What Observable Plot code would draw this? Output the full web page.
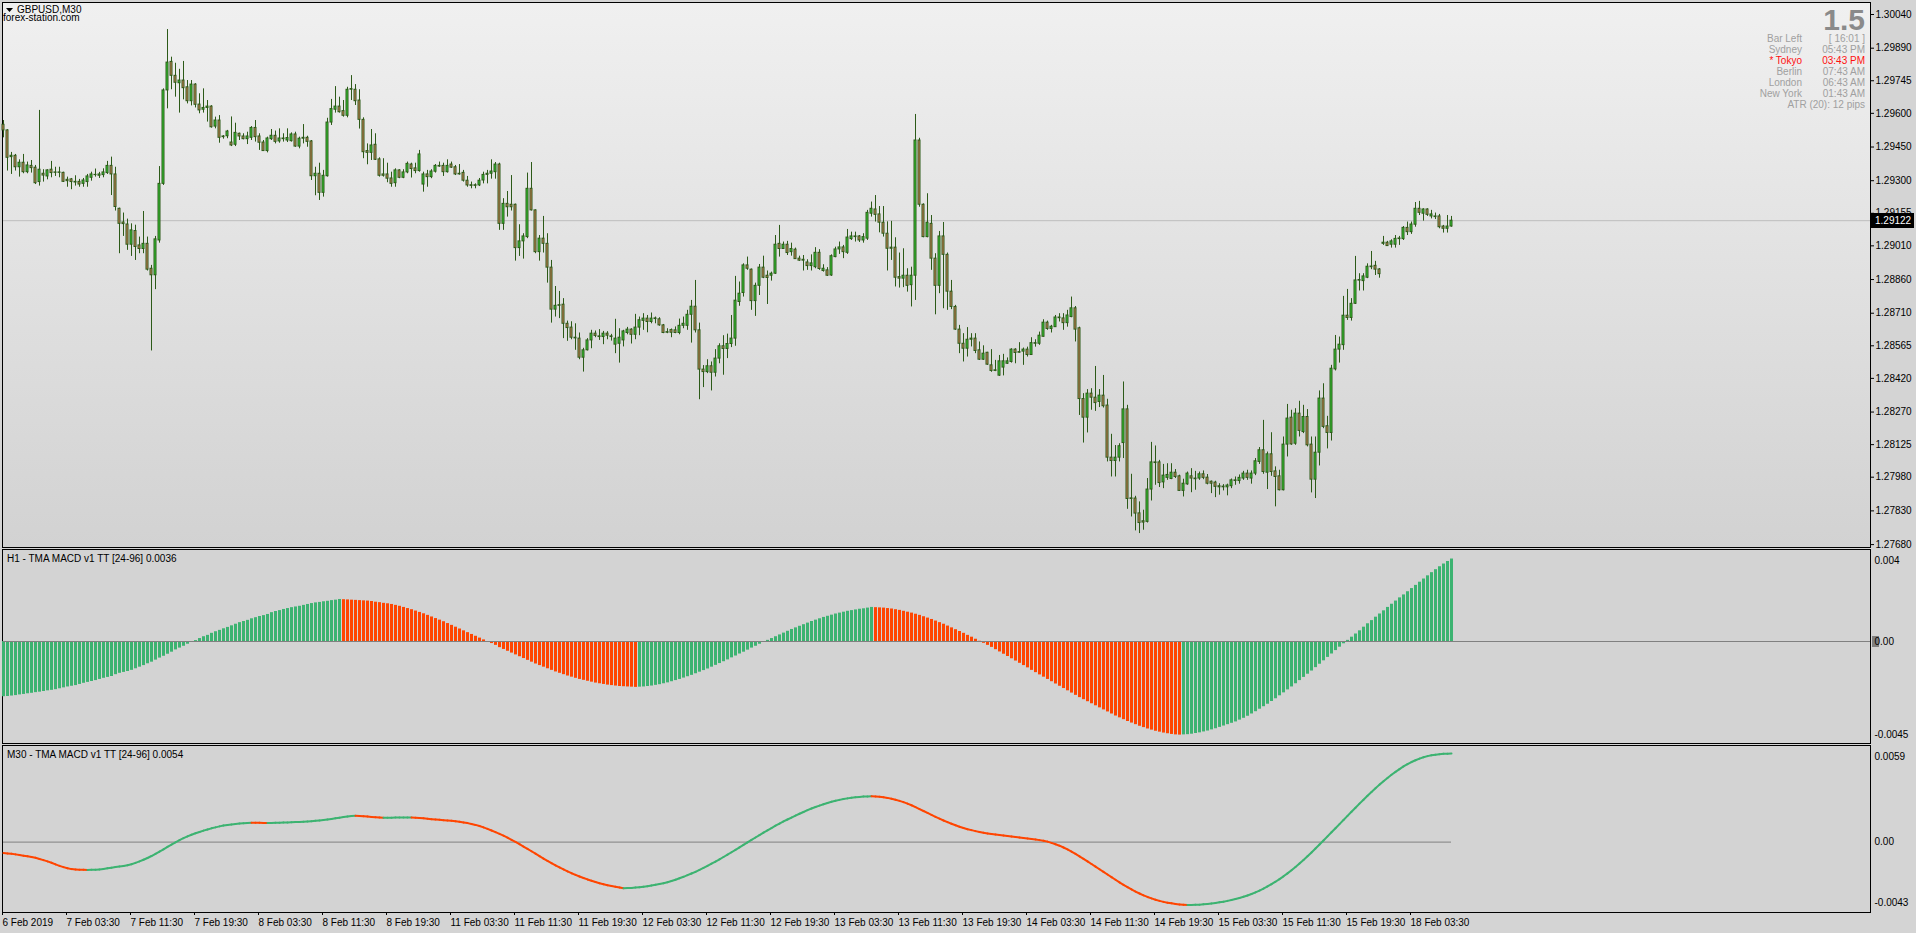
<!DOCTYPE html>
<html><head><meta charset="utf-8">
<script src="https://cdn.jsdelivr.net/npm/d3@7"></script>
<script src="https://cdn.jsdelivr.net/npm/@observablehq/plot@0.6"></script>
<style>
body{margin:0;background:#d4d4d4;font-family:"Liberation Sans",Arial,sans-serif;}
#root{position:relative;width:1916px;height:933px;overflow:hidden;background:#d4d4d4;}
.panel{position:absolute;box-sizing:border-box;border:1px solid #000;}
</style></head>
<body><div id="root"></div>
<script>
// ---------- DATA (GBPUSD M30, 363 bars) ----------
const open = [
1.29549,1.29524,1.29405,1.29411,1.29360,1.29380,1.29338,1.29366,1.29358,1.29294,
1.29331,1.29319,1.29349,1.29337,1.29337,1.29335,1.29304,1.29306,1.29295,1.29295,
1.29286,1.29294,1.29313,1.29326,1.29322,1.29325,1.29334,1.29366,1.29328,1.29175,
1.29114,1.29105,1.29015,1.29076,1.29012,1.28996,1.29019,1.28908,1.28879,1.29034,
1.29286,1.29702,1.29829,1.29767,1.29734,1.29746,1.29716,1.29654,1.29728,1.29639,
1.29616,1.29624,1.29630,1.29541,1.29568,1.29494,1.29498,1.29470,1.29460,1.29509,
1.29497,1.29485,1.29491,1.29535,1.29497,1.29470,1.29432,1.29485,1.29500,1.29475,
1.29485,1.29479,1.29476,1.29506,1.29452,1.29487,1.29491,1.29475,1.29320,1.29331,
1.29246,1.29320,1.29559,1.29616,1.29630,1.29610,1.29589,1.29705,1.29705,1.29657,
1.29571,1.29432,1.29424,1.29460,1.29395,1.29328,1.29328,1.29310,1.29289,1.29346,
1.29313,1.29337,1.29372,1.29355,1.29343,1.29283,1.29328,1.29316,1.29340,1.29363,
1.29366,1.29338,1.29372,1.29360,1.29331,1.29335,1.29300,1.29280,1.29277,1.29279,
1.29301,1.29326,1.29331,1.29338,1.29372,1.29108,1.29197,1.29193,1.29193,1.29000,
1.29030,1.29049,1.29264,1.29168,1.28982,1.29042,1.29019,1.28913,1.28726,1.28743,
1.28748,1.28663,1.28646,1.28601,1.28597,1.28512,1.28545,1.28589,1.28619,1.28607,
1.28604,1.28619,1.28607,1.28570,1.28574,1.28589,1.28622,1.28637,1.28614,1.28646,
1.28676,1.28686,1.28671,1.28687,1.28683,1.28656,1.28626,1.28635,1.28634,1.28622,
1.28654,1.28654,1.28703,1.28739,1.28634,1.28459,1.28448,1.28474,1.28445,1.28508,
1.28563,1.28551,1.28573,1.28597,1.28760,1.28800,1.28923,1.28904,1.28764,1.28832,
1.28913,1.28877,1.28877,1.28886,1.29019,1.28996,1.29015,1.28982,1.28993,1.28953,
1.28944,1.28936,1.28920,1.28915,1.28979,1.28898,1.28901,1.28878,1.28960,1.28994,
1.29003,1.28979,1.29040,1.29052,1.29052,1.29034,1.29042,1.29153,1.29172,1.29150,
1.29113,1.29064,1.29002,1.29002,1.28871,1.28864,1.28877,1.28835,1.28877,1.29479,
1.29193,1.29049,1.29108,1.28953,1.28832,1.29052,1.28970,1.28806,1.28738,1.28637,
1.28574,1.28552,1.28592,1.28597,1.28545,1.28503,1.28534,1.28478,1.28456,1.28432,
1.28468,1.28485,1.28493,1.28548,1.28534,1.28539,1.28548,1.28524,1.28574,1.28574,
1.28605,1.28668,1.28640,1.28648,1.28688,1.28687,1.28666,1.28693,1.28732,1.28643,
1.28328,1.28245,1.28352,1.28334,1.28315,1.28343,1.28299,1.28067,1.28052,1.28067,
1.28132,1.28282,1.27886,1.27885,1.27819,1.27784,1.27781,1.27925,1.28046,1.28046,
1.27957,1.27977,1.27972,1.28000,1.27984,1.27919,1.27948,1.27984,1.27974,1.27974,
1.27993,1.27978,1.27960,1.27956,1.27940,1.27938,1.27935,1.27940,1.27966,1.27963,
1.27974,1.27996,1.27974,1.27996,1.28048,1.28100,1.28000,1.28082,1.28006,1.27984,
1.27922,1.28125,1.28245,1.28129,1.28263,1.28181,1.28248,1.28125,1.27969,1.28089,
1.28330,1.28207,1.28177,1.28460,1.28548,1.28568,1.28699,1.28689,1.28752,1.28858,
1.28853,1.28868,1.28915,1.28921,1.28905,1.29019,1.29024,1.29015,1.29015,1.29040,
1.29040,1.29090,1.29071,1.29104,1.29175,1.29153,1.29172,1.29141,1.29141,1.29141,
1.29096,1.29086,1.29096];
const high = [
1.29568,1.29527,1.29426,1.29417,1.29393,1.29417,1.29383,1.29390,1.29368,1.29613,
1.29349,1.29349,1.29386,1.29360,1.29360,1.29338,1.29316,1.29310,1.29322,1.29306,
1.29310,1.29328,1.29338,1.29352,1.29337,1.29353,1.29386,1.29405,1.29360,1.29178,
1.29156,1.29129,1.29108,1.29102,1.29049,1.29163,1.29049,1.28923,1.29052,1.29363,
1.29709,1.29973,1.29850,1.29823,1.29796,1.29831,1.29746,1.29746,1.29732,1.29687,
1.29709,1.29657,1.29634,1.29583,1.29590,1.29501,1.29524,1.29584,1.29556,1.29512,
1.29509,1.29516,1.29541,1.29568,1.29509,1.29479,1.29494,1.29528,1.29521,1.29531,
1.29509,1.29531,1.29513,1.29516,1.29494,1.29550,1.29498,1.29479,1.29360,1.29378,
1.29346,1.29578,1.29662,1.29719,1.29672,1.29657,1.29716,1.29768,1.29728,1.29705,
1.29580,1.29464,1.29528,1.29509,1.29402,1.29398,1.29378,1.29338,1.29353,1.29349,
1.29349,1.29383,1.29378,1.29378,1.29435,1.29338,1.29346,1.29349,1.29372,1.29383,
1.29378,1.29393,1.29383,1.29368,1.29372,1.29346,1.29319,1.29294,1.29286,1.29310,
1.29338,1.29346,1.29393,1.29381,1.29378,1.29220,1.29252,1.29323,1.29196,1.29104,
1.29064,1.29334,1.29381,1.29170,1.29056,1.29141,1.29064,1.28945,1.28829,1.28807,
1.28775,1.28675,1.28672,1.28663,1.28622,1.28554,1.28597,1.28634,1.28631,1.28637,
1.28629,1.28628,1.28616,1.28683,1.28641,1.28634,1.28647,1.28641,1.28705,1.28693,
1.28708,1.28700,1.28711,1.28693,1.28690,1.28660,1.28641,1.28640,1.28649,1.28684,
1.28693,1.28723,1.28767,1.28856,1.28666,1.28477,1.28503,1.28493,1.28548,1.28574,
1.28610,1.28617,1.28700,1.28874,1.28849,1.28930,1.28960,1.28907,1.28844,1.28927,
1.28964,1.28898,1.28893,1.29056,1.29101,1.29027,1.29030,1.29022,1.29000,1.28964,
1.28967,1.28948,1.28970,1.29002,1.28993,1.28926,1.28913,1.28970,1.29004,1.29027,
1.29012,1.29083,1.29071,1.29071,1.29056,1.29064,1.29168,1.29205,1.29234,1.29185,
1.29185,1.29117,1.29119,1.29046,1.28978,1.28997,1.28908,1.28915,1.29595,1.29489,
1.29197,1.29242,1.29145,1.28975,1.29074,1.29114,1.28978,1.28856,1.28745,1.28656,
1.28619,1.28646,1.28619,1.28619,1.28582,1.28565,1.28536,1.28548,1.28500,1.28522,
1.28527,1.28511,1.28552,1.28552,1.28579,1.28555,1.28559,1.28601,1.28592,1.28626,
1.28681,1.28675,1.28656,1.28700,1.28708,1.28708,1.28723,1.28782,1.28740,1.28648,
1.28352,1.28370,1.28374,1.28473,1.28370,1.28433,1.28327,1.28171,1.28121,1.28129,
1.28404,1.28300,1.27993,1.27895,1.27870,1.27833,1.27974,1.28135,1.28119,1.28055,
1.28037,1.28040,1.28040,1.28014,1.27989,1.27971,1.28003,1.28018,1.28006,1.28003,
1.28008,1.27992,1.27963,1.27962,1.27951,1.27947,1.27949,1.27972,1.27981,1.27990,
1.28006,1.28011,1.28008,1.28063,1.28112,1.28233,1.28092,1.28178,1.28026,1.28011,
1.28159,1.28304,1.28278,1.28285,1.28318,1.28300,1.28281,1.28159,1.28159,1.28364,
1.28396,1.28251,1.28478,1.28611,1.28604,1.28785,1.28816,1.28775,1.28963,1.28886,
1.28886,1.28930,1.28985,1.28941,1.28909,1.29052,1.29030,1.29037,1.29056,1.29052,
1.29096,1.29116,1.29116,1.29203,1.29208,1.29175,1.29175,1.29168,1.29156,1.29150,
1.29101,1.29145,1.29141];
const low = [
1.29491,1.29343,1.29328,1.29343,1.29316,1.29331,1.29331,1.29334,1.29283,1.29276,
1.29294,1.29304,1.29313,1.29319,1.29313,1.29292,1.29271,1.29260,1.29276,1.29271,
1.29271,1.29271,1.29298,1.29316,1.29310,1.29313,1.29328,1.29234,1.29165,1.28975,
1.29052,1.28990,1.28963,1.28945,1.28975,1.28975,1.28898,1.28542,1.28815,1.29022,
1.29279,1.29620,1.29705,1.29672,1.29601,1.29660,1.29642,1.29633,1.29624,1.29598,
1.29601,1.29561,1.29534,1.29531,1.29467,1.29485,1.29487,1.29452,1.29452,1.29479,
1.29482,1.29461,1.29479,1.29472,1.29435,1.29430,1.29424,1.29479,1.29464,1.29467,
1.29472,1.29470,1.29472,1.29449,1.29442,1.29464,1.29449,1.29301,1.29233,1.29212,
1.29227,1.29316,1.29546,1.29601,1.29601,1.29583,1.29580,1.29657,1.29635,1.29530,
1.29398,1.29371,1.29390,1.29390,1.29316,1.29316,1.29291,1.29271,1.29271,1.29309,
1.29309,1.29331,1.29312,1.29331,1.29338,1.29249,1.29271,1.29309,1.29334,1.29360,
1.29319,1.29334,1.29355,1.29323,1.29325,1.29294,1.29271,1.29264,1.29264,1.29274,
1.29286,1.29286,1.29307,1.29307,1.29079,1.29079,1.29138,1.29165,1.28942,1.28963,
1.28951,1.29042,1.29165,1.28975,1.28942,1.28978,1.28844,1.28666,1.28693,1.28686,
1.28597,1.28585,1.28592,1.28545,1.28503,1.28448,1.28542,1.28552,1.28601,1.28589,
1.28570,1.28592,1.28586,1.28530,1.28488,1.28560,1.28614,1.28573,1.28592,1.28610,
1.28634,1.28623,1.28663,1.28663,1.28652,1.28619,1.28619,1.28601,1.28619,1.28614,
1.28641,1.28634,1.28577,1.28622,1.28325,1.28379,1.28441,1.28364,1.28426,1.28485,
1.28434,1.28508,1.28557,1.28563,1.28741,1.28782,1.28901,1.28723,1.28696,1.28789,
1.28864,1.28749,1.28853,1.28883,1.28960,1.28994,1.28967,1.28964,1.28950,1.28941,
1.28898,1.28901,1.28898,1.28908,1.28901,1.28893,1.28874,1.28874,1.28957,1.28972,
1.28953,1.28972,1.29034,1.29027,1.29025,1.29022,1.29034,1.29138,1.29116,1.29068,
1.29049,1.28898,1.28945,1.28827,1.28822,1.28824,1.28804,1.28738,1.28767,1.29182,
1.29046,1.29046,1.28901,1.28703,1.28797,1.28730,1.28723,1.28726,1.28634,1.28530,
1.28493,1.28515,1.28560,1.28530,1.28500,1.28500,1.28478,1.28447,1.28450,1.28429,
1.28431,1.28482,1.28488,1.28485,1.28533,1.28478,1.28515,1.28522,1.28559,1.28567,
1.28604,1.28634,1.28622,1.28647,1.28671,1.28634,1.28648,1.28690,1.28582,1.28255,
1.28132,1.28177,1.28278,1.28273,1.28290,1.28288,1.28048,1.27981,1.27981,1.28048,
1.28063,1.27837,1.27803,1.27741,1.27729,1.27744,1.27776,1.27874,1.27944,1.27934,
1.27929,1.27966,1.27969,1.27974,1.27917,1.27892,1.27944,1.27911,1.27922,1.27966,
1.27969,1.27946,1.27907,1.27889,1.27900,1.27919,1.27897,1.27929,1.27944,1.27949,
1.27966,1.27966,1.27949,1.27987,1.28037,1.27993,1.27925,1.27984,1.27848,1.27919,
1.27919,1.28070,1.28122,1.28122,1.28159,1.28174,1.28115,1.27910,1.27885,1.28030,
1.28196,1.28106,1.28141,1.28453,1.28488,1.28545,1.28678,1.28675,1.28749,1.28809,
1.28809,1.28864,1.28904,1.28878,1.28866,1.29012,1.29007,1.29000,1.29000,1.29012,
1.29034,1.29056,1.29061,1.29093,1.29145,1.29120,1.29141,1.29130,1.29127,1.29086,
1.29067,1.29067,1.29093];
const close = [
1.29524,1.29402,1.29411,1.29360,1.29380,1.29338,1.29368,1.29356,1.29289,1.29349,
1.29323,1.29346,1.29334,1.29335,1.29335,1.29295,1.29298,1.29294,1.29292,1.29283,
1.29301,1.29319,1.29328,1.29325,1.29328,1.29337,1.29366,1.29328,1.29183,1.29108,
1.29107,1.29015,1.29079,1.29005,1.28996,1.29019,1.28904,1.28879,1.29039,1.29286,
1.29702,1.29826,1.29767,1.29736,1.29746,1.29712,1.29654,1.29728,1.29638,1.29613,
1.29624,1.29630,1.29538,1.29568,1.29491,1.29497,1.29519,1.29457,1.29513,1.29497,
1.29485,1.29497,1.29535,1.29494,1.29469,1.29432,1.29488,1.29500,1.29473,1.29488,
1.29488,1.29490,1.29506,1.29452,1.29487,1.29491,1.29473,1.29320,1.29331,1.29246,
1.29322,1.29559,1.29619,1.29630,1.29605,1.29589,1.29705,1.29708,1.29654,1.29571,
1.29427,1.29424,1.29457,1.29393,1.29322,1.29322,1.29309,1.29286,1.29346,1.29313,
1.29337,1.29375,1.29352,1.29343,1.29417,1.29328,1.29316,1.29341,1.29366,1.29366,
1.29338,1.29366,1.29358,1.29328,1.29328,1.29300,1.29279,1.29277,1.29280,1.29300,
1.29326,1.29331,1.29341,1.29372,1.29108,1.29197,1.29182,1.29182,1.29000,1.29030,
1.29052,1.29264,1.29168,1.28982,1.29042,1.29019,1.28913,1.28726,1.28743,1.28746,
1.28663,1.28644,1.28601,1.28598,1.28512,1.28545,1.28589,1.28619,1.28609,1.28604,
1.28619,1.28610,1.28604,1.28597,1.28601,1.28629,1.28637,1.28614,1.28646,1.28679,
1.28686,1.28671,1.28686,1.28684,1.28656,1.28622,1.28623,1.28623,1.28622,1.28654,
1.28663,1.28703,1.28739,1.28634,1.28459,1.28448,1.28474,1.28445,1.28508,1.28563,
1.28551,1.28573,1.28597,1.28766,1.28797,1.28923,1.28908,1.28764,1.28832,1.28913,
1.28868,1.28867,1.28886,1.29015,1.28996,1.29015,1.28978,1.28996,1.28951,1.28944,
1.28948,1.28920,1.28932,1.28979,1.28907,1.28908,1.28877,1.28964,1.28994,1.29003,
1.28982,1.29047,1.29052,1.29049,1.29034,1.29049,1.29157,1.29175,1.29148,1.29113,
1.29064,1.28997,1.28997,1.28868,1.28864,1.28877,1.28832,1.28877,1.29479,1.29193,
1.29049,1.29113,1.28953,1.28832,1.29052,1.28970,1.28806,1.28738,1.28637,1.28574,
1.28552,1.28592,1.28597,1.28542,1.28503,1.28530,1.28481,1.28453,1.28453,1.28496,
1.28496,1.28496,1.28548,1.28533,1.28537,1.28548,1.28524,1.28577,1.28577,1.28610,
1.28668,1.28640,1.28650,1.28691,1.28691,1.28666,1.28700,1.28732,1.28637,1.28328,
1.28245,1.28352,1.28334,1.28310,1.28343,1.28296,1.28067,1.28052,1.28067,1.28118,
1.28282,1.27883,1.27883,1.27818,1.27776,1.27778,1.27925,1.28046,1.28043,1.27954,
1.27987,1.27990,1.28000,1.27981,1.27919,1.27951,1.27996,1.27974,1.27971,1.27993,
1.27977,1.27951,1.27951,1.27937,1.27935,1.27935,1.27943,1.27966,1.27963,1.27977,
1.27996,1.27977,1.27996,1.28051,1.28100,1.28003,1.28082,1.28003,1.27981,1.27922,
1.28125,1.28241,1.28126,1.28263,1.28186,1.28248,1.28122,1.27969,1.28089,1.28330,
1.28204,1.28177,1.28463,1.28548,1.28570,1.28699,1.28689,1.28752,1.28856,1.28855,
1.28874,1.28917,1.28918,1.28904,1.28884,1.29024,1.29009,1.29030,1.29041,1.29043,
1.29090,1.29071,1.29105,1.29175,1.29157,1.29172,1.29148,1.29150,1.29138,1.29093,
1.29086,1.29096,1.29122];
// H1 TMA MACD histogram
const histH1 = [
-0.00243,-0.00242,-0.00240,-0.00238,-0.00235,-0.00233,-0.00230,-0.00228,-0.00225,-0.00223,
-0.00220,-0.00217,-0.00215,-0.00212,-0.00208,-0.00204,-0.00200,-0.00197,-0.00194,-0.00189,
-0.00184,-0.00180,-0.00176,-0.00172,-0.00167,-0.00162,-0.00158,-0.00154,-0.00146,-0.00140,
-0.00136,-0.00132,-0.00127,-0.00120,-0.00113,-0.00106,-0.00098,-0.00091,-0.00082,-0.00073,
-0.00065,-0.00056,-0.00047,-0.00037,-0.00029,-0.00021,-0.00012,-0.00003,0.00004,0.00013,
0.00021,0.00027,0.00036,0.00043,0.00049,0.00056,0.00062,0.00069,0.00076,0.00083,
0.00088,0.00093,0.00100,0.00105,0.00110,0.00114,0.00119,0.00127,0.00132,0.00136,
0.00141,0.00145,0.00149,0.00152,0.00155,0.00159,0.00163,0.00167,0.00170,0.00172,
0.00175,0.00177,0.00180,0.00182,0.00185,0.00184,0.00183,0.00182,0.00181,0.00180,
0.00179,0.00178,0.00176,0.00173,0.00171,0.00168,0.00166,0.00163,0.00159,0.00155,
0.00150,0.00145,0.00140,0.00134,0.00128,0.00122,0.00115,0.00108,0.00101,0.00094,
0.00087,0.00079,0.00071,0.00063,0.00055,0.00047,0.00039,0.00031,0.00023,0.00015,
0.00007,-0.00001,-0.00009,-0.00017,-0.00027,-0.00035,-0.00043,-0.00051,-0.00059,-0.00067,
-0.00075,-0.00083,-0.00091,-0.00099,-0.00106,-0.00113,-0.00120,-0.00127,-0.00134,-0.00140,
-0.00146,-0.00152,-0.00157,-0.00162,-0.00167,-0.00171,-0.00175,-0.00179,-0.00183,-0.00186,
-0.00189,-0.00192,-0.00194,-0.00196,-0.00198,-0.00199,-0.00200,-0.00201,-0.00202,-0.00201,
-0.00200,-0.00198,-0.00196,-0.00193,-0.00190,-0.00186,-0.00182,-0.00177,-0.00172,-0.00167,
-0.00161,-0.00155,-0.00149,-0.00142,-0.00135,-0.00128,-0.00121,-0.00113,-0.00105,-0.00097,
-0.00089,-0.00081,-0.00072,-0.00064,-0.00055,-0.00047,-0.00038,-0.00029,-0.00021,-0.00012,
-0.00004,0.00005,0.00013,0.00021,0.00029,0.00037,0.00045,0.00053,0.00060,0.00067,
0.00074,0.00081,0.00088,0.00094,0.00100,0.00106,0.00111,0.00116,0.00121,0.00125,
0.00129,0.00133,0.00136,0.00139,0.00142,0.00144,0.00147,0.00150,0.00149,0.00148,
0.00147,0.00145,0.00143,0.00140,0.00137,0.00133,0.00129,0.00125,0.00120,0.00115,
0.00109,0.00103,0.00097,0.00090,0.00083,0.00076,0.00068,0.00060,0.00052,0.00044,
0.00036,0.00027,0.00019,0.00010,0.00001,-0.00008,-0.00017,-0.00026,-0.00036,-0.00046,
-0.00056,-0.00066,-0.00076,-0.00086,-0.00096,-0.00106,-0.00116,-0.00127,-0.00137,-0.00147,
-0.00157,-0.00167,-0.00177,-0.00187,-0.00197,-0.00207,-0.00217,-0.00227,-0.00237,-0.00247,
-0.00256,-0.00265,-0.00274,-0.00283,-0.00292,-0.00301,-0.00310,-0.00319,-0.00328,-0.00336,
-0.00344,-0.00352,-0.00359,-0.00366,-0.00373,-0.00379,-0.00385,-0.00390,-0.00395,-0.00399,
-0.00403,-0.00406,-0.00409,-0.00411,-0.00412,-0.00411,-0.00410,-0.00408,-0.00405,-0.00402,
-0.00398,-0.00394,-0.00389,-0.00384,-0.00378,-0.00372,-0.00366,-0.00360,-0.00354,-0.00346,
-0.00338,-0.00329,-0.00319,-0.00309,-0.00298,-0.00287,-0.00276,-0.00264,-0.00252,-0.00239,
-0.00226,-0.00213,-0.00200,-0.00186,-0.00172,-0.00158,-0.00144,-0.00130,-0.00115,-0.00100,
-0.00085,-0.00070,-0.00055,-0.00040,-0.00025,-0.00010,0.00005,0.00019,0.00033,0.00047,
0.00063,0.00078,0.00092,0.00107,0.00121,0.00135,0.00150,0.00164,0.00178,0.00192,
0.00205,0.00219,0.00233,0.00247,0.00261,0.00275,0.00289,0.00303,0.00316,0.00329,
0.00341,0.00352,0.00363];
// M30 TMA MACD line
const lineM30 = [
-0.00067,-0.00069,-0.00071,-0.00075,-0.00079,-0.00083,-0.00087,-0.00091,-0.00096,-0.00103,
-0.00110,-0.00118,-0.00126,-0.00136,-0.00145,-0.00153,-0.00160,-0.00165,-0.00168,-0.00169,
-0.001695,-0.00170,-0.001695,-0.00169,-0.00167,-0.00164,-0.00160,-0.00156,-0.00152,-0.00149,
-0.00146,-0.00141,-0.00135,-0.00127,-0.00118,-0.00108,-0.00097,-0.00085,-0.00072,-0.00058,
-0.00044,-0.00029,-0.00015,-0.00001,0.00012,0.00024,0.00035,0.00045,0.00054,0.00062,
0.00070,0.00077,0.00084,0.00090,0.00096,0.00101,0.00105,0.00108,0.00111,0.00113,
0.00115,0.00117,0.00118,0.001177,0.001175,0.001173,0.001171,0.001172,0.001175,0.00118,
0.00119,0.00120,0.00121,0.00122,0.00123,0.00124,0.00126,0.00128,0.00130,0.00132,
0.00135,0.00138,0.00141,0.00145,0.00149,0.00153,0.00156,0.00159,0.00161,0.00160,
0.00158,0.00156,0.00154,0.00152,0.00150,0.00149,0.001492,0.001494,0.001496,0.001498,
0.00150,0.001502,0.001504,0.00149,0.00147,0.00145,0.00143,0.00140,0.00138,0.00136,
0.00134,0.00132,0.00130,0.00127,0.00124,0.00120,0.00116,0.00111,0.00105,0.00098,
0.00090,0.00081,0.00071,0.00061,0.00050,0.00039,0.00027,0.00014,0.00001,-0.00013,
-0.00027,-0.00041,-0.00056,-0.00071,-0.00086,-0.00101,-0.00115,-0.00129,-0.00142,-0.00155,
-0.00167,-0.00179,-0.00190,-0.00200,-0.00210,-0.00219,-0.00228,-0.00236,-0.00244,-0.00251,
-0.00257,-0.00263,-0.00268,-0.00273,-0.00277,-0.00282,-0.00281,-0.00280,-0.00278,-0.00276,
-0.00273,-0.00269,-0.00265,-0.00261,-0.00256,-0.00251,-0.00245,-0.00238,-0.00230,-0.00221,
-0.00212,-0.00202,-0.00192,-0.00182,-0.00170,-0.00158,-0.00145,-0.00132,-0.00119,-0.00105,
-0.00091,-0.00077,-0.00062,-0.00047,-0.00032,-0.00017,-0.00002,0.00013,0.00028,0.00043,
0.00058,0.00072,0.00086,0.00100,0.00113,0.00126,0.00138,0.00150,0.00162,0.00173,
0.00184,0.00195,0.00205,0.00214,0.00223,0.00231,0.00239,0.00246,0.00252,0.00258,
0.00263,0.00267,0.00271,0.00274,0.00276,0.00278,0.00279,0.00280,0.00279,0.00277,
0.00274,0.00270,0.00265,0.00259,0.00252,0.00244,0.00235,0.00225,0.00214,0.00202,
0.00190,0.00178,0.00166,0.00154,0.00143,0.00132,0.00122,0.00112,0.00103,0.00094,
0.00086,0.00079,0.00073,0.00067,0.00062,0.00057,0.00053,0.00049,0.00046,0.00043,
0.00040,0.00037,0.00034,0.00031,0.00028,0.00025,0.00022,0.00019,0.00016,0.00012,
0.00008,0.00003,-0.00005,-0.00013,-0.00022,-0.00033,-0.00045,-0.00058,-0.00072,-0.00087,
-0.00102,-0.00118,-0.00134,-0.00150,-0.00166,-0.00182,-0.00198,-0.00214,-0.00230,-0.00246,
-0.00261,-0.00275,-0.00289,-0.00302,-0.00314,-0.00325,-0.00335,-0.00344,-0.00352,-0.00359,
-0.00365,-0.00370,-0.00374,-0.00378,-0.00381,-0.00383,-0.00384,-0.003835,-0.00383,-0.00382,
-0.00380,-0.00378,-0.00375,-0.00372,-0.00368,-0.00364,-0.00359,-0.00354,-0.00348,-0.00341,
-0.00334,-0.00326,-0.00317,-0.00307,-0.00296,-0.00284,-0.00271,-0.00257,-0.00242,-0.00226,
-0.00209,-0.00191,-0.00172,-0.00152,-0.00131,-0.00109,-0.00086,-0.00063,-0.00039,-0.00015,
0.00010,0.00035,0.00060,0.00085,0.00110,0.00135,0.00160,0.00185,0.00210,0.00235,
0.00259,0.00283,0.00306,0.00329,0.00351,0.00372,0.00392,0.00411,0.00429,0.00446,
0.00462,0.00476,0.00489,0.00500,0.00510,0.00518,0.00525,0.00530,0.00534,0.00537,
0.00539,0.00540,0.00541];

const priceTicks = [1.30040,1.29890,1.29745,1.29600,1.29450,1.29300,1.29155,1.29010,1.28860,
  1.28710,1.28565,1.28420,1.28270,1.28125,1.27980,1.27830,1.27680];
const lastPrice = 1.29122;
const xTickBars = [0,16,32,48,64,80,96,112,128,144,160,176,192,208,224,240,256,272,288,304,320,336,352];
const xTickLabels = ["6 Feb 2019","7 Feb 03:30","7 Feb 11:30","7 Feb 19:30","8 Feb 03:30","8 Feb 11:30",
  "8 Feb 19:30","11 Feb 03:30","11 Feb 11:30","11 Feb 19:30","12 Feb 03:30","12 Feb 11:30","12 Feb 19:30",
  "13 Feb 03:30","13 Feb 11:30","13 Feb 19:30","14 Feb 03:30","14 Feb 11:30","14 Feb 19:30","15 Feb 03:30",
  "15 Feb 11:30","15 Feb 19:30","18 Feb 03:30"];
const histLabels = ["0.004","0.00","-0.0045"];
const lineLabels = ["0.0059","0.00","-0.0043"];
const infoLabels = ["Bar Left","Sydney","* Tokyo","Berlin","London","New York"];
const infoValues = ["[ 16:01 ]","05:43 PM","03:43 PM","07:43 AM","06:43 AM","01:43 AM"];
const atrText = "ATR (20): 12 pips";
const spreadText = "1.5";

// ---------- STYLE ----------
const W = 1916, ML = 3, MR = 46, XMAX = 466.75;
const WICK = "#2c5a18", BULL = "#33cc33", BEAR = "#cf7f58";
const UP = "#3cb371", DN = "#ff4500";
const FONT = "'Liberation Sans', Arial, sans-serif";
const st = {background: "transparent", fontFamily: FONT, fontSize: "10px", color: "#000", overflow: "visible"};
const N = close.length;
const idx = d3.range(N);

const root = document.getElementById("root");
function box(l, t, w, h, bg) {
  const d = document.createElement("div");
  d.className = "panel";
  Object.assign(d.style, {left: l + "px", top: t + "px", width: w + "px", height: h + "px", background: bg});
  root.appendChild(d);
}
box(2, 2, 1869, 546, "linear-gradient(#f0f0f0,#d2d2d2)");
box(2, 549, 1869, 195, "#d3d3d3");
box(2, 745, 1869, 168, "#d3d3d3");

// ---------- MAIN CANDLES ----------
const main = Plot.plot({
  width: W, height: 549, marginLeft: ML, marginRight: MR, marginTop: 3, marginBottom: 2,
  style: st,
  x: {domain: [0, XMAX], axis: null},
  y: {domain: [1.27667, 1.30089]},
  marks: [
    Plot.ruleY([lastPrice], {stroke: "#bdbdbd"}),
    Plot.ruleX(idx, {x: i => i, y1: i => low[i], y2: i => high[i], stroke: WICK, strokeWidth: 1}),
    Plot.rect(idx, {x1: i => i - 0.375, x2: i => i + 0.375, y1: i => open[i], y2: i => close[i],
      fill: WICK, insetTop: -0.5, insetBottom: -0.5}),
    Plot.rect(idx, {x1: i => i - 0.375, x2: i => i + 0.375, y1: i => open[i], y2: i => close[i],
      fill: i => close[i] >= open[i] ? BULL : BEAR, insetLeft: 1, insetRight: 1, insetTop: 0.5, insetBottom: 0.5}),
    Plot.axisY(priceTicks, {anchor: "right", tickSize: 3, tickPadding: 2, tickFormat: d => d.toFixed(5)})
  ]
});

// ---------- H1 HISTOGRAM ----------
const hist = Plot.plot({
  width: W, height: 195, marginLeft: ML, marginRight: MR, marginTop: 0, marginBottom: 0,
  style: st,
  x: {domain: [0, XMAX], axis: null},
  y: {domain: [-0.004533, 0.004049], axis: null},
  marks: [
    Plot.ruleX(idx, {x: i => i, y1: 0, y2: i => histH1[i], strokeWidth: 3,
      stroke: i => (i > 0 && histH1[i] < histH1[i - 1]) ? DN : UP}),
    Plot.ruleY([0], {stroke: "#808080"}),
    Plot.text([histLabels[0]], {frameAnchor: "top-right", dx: 4, dy: 7, textAnchor: "start"}),
    Plot.text([histLabels[1]], {y: () => 0, frameAnchor: "right", dx: 4, textAnchor: "start"}),
    Plot.text([histLabels[2]], {frameAnchor: "bottom-right", dx: 4, dy: -7, textAnchor: "start"})
  ]
});

// ---------- M30 LINE ----------
const line = Plot.plot({
  width: W, height: 189, marginLeft: ML, marginRight: MR, marginTop: 0, marginBottom: 22,
  style: st,
  x: {domain: [0, XMAX]},
  y: {domain: [-0.0043, 0.0059], axis: null},
  marks: [
    Plot.ruleY([0], {x1: 0, x2: N - 1, stroke: "#808080"}),
    Plot.link(d3.range(1, N), {x1: i => i - 1, y1: i => lineM30[i - 1], x2: i => i, y2: i => lineM30[i],
      stroke: i => lineM30[i] > lineM30[i - 1] ? UP : DN, strokeWidth: 2, strokeLinecap: "round"}),
    Plot.text([lineLabels[0]], {frameAnchor: "top-right", dx: 4, dy: 7, textAnchor: "start"}),
    Plot.text([lineLabels[1]], {y: () => 0, frameAnchor: "right", dx: 4, textAnchor: "start"}),
    Plot.text([lineLabels[2]], {frameAnchor: "bottom-right", dx: 4, dy: -7, textAnchor: "start"}),
    Plot.axisX(xTickBars, {anchor: "bottom", tickSize: 3, tickPadding: 3, textAnchor: "start", dx: -1,
      tickFormat: d => xTickLabels[xTickBars.indexOf(d)]})
  ]
});

// ---------- OVERLAY TEXTS ----------
const ov = d3.create("svg").attr("width", W).attr("height", 933)
  .style("position", "absolute").style("left", "0px").style("top", "0px")
  .style("font-family", FONT).style("font-size", "10px");
ov.append("path").attr("d", "M6,8L13,8L9.5,12Z").attr("fill", "#000");
ov.append("text").attr("x", 17).attr("y", 13).attr("fill", "#000").text("GBPUSD,M30");
ov.append("text").attr("x", 3).attr("y", 21).attr("fill", "#000").text("forex-station.com");
ov.append("text").attr("x", 1865).attr("y", 30).attr("text-anchor", "end").attr("fill", "#8a8a8a")
  .style("font-size", "30px").style("font-weight", "bold").text(spreadText);
infoLabels.forEach((s, k) => {
  const red = s.indexOf("Tokyo") >= 0;
  ov.append("text").attr("x", 1802).attr("y", 42 + 11 * k).attr("text-anchor", "end")
    .attr("fill", red ? "#ff1010" : "#a0a0a0").text(s);
  ov.append("text").attr("x", 1865).attr("y", 42 + 11 * k).attr("text-anchor", "end")
    .attr("fill", red ? "#ff1010" : "#a0a0a0").text(infoValues[k]);
});
ov.append("text").attr("x", 1865).attr("y", 108).attr("text-anchor", "end").attr("fill", "#a0a0a0").text(atrText);
ov.append("text").attr("x", 7).attr("y", 562).attr("fill", "#000").text("H1 - TMA MACD v1 TT [24-96] " + histH1[N - 1].toFixed(4));
ov.append("text").attr("x", 7).attr("y", 758).attr("fill", "#000").text("M30 - TMA MACD v1 TT [24-96] " + lineM30[N - 1].toFixed(4));
// zero-level marker on H1 scale
const hz = 549 + hist.scale("y").apply(0);
ov.append("rect").attr("x", 1872).attr("y", hz - 5).attr("width", 7).attr("height", 11).attr("fill", "#808080");
root.appendChild(ov.node());

function place(svg, top) {
  svg.style.position = "absolute"; svg.style.left = "0px"; svg.style.top = top + "px";
  root.appendChild(svg);
}
place(main, 0);
place(hist, 549);
place(line, 745);

// current price tag
const py = main.scale("y").apply(lastPrice);
const tag = d3.create("svg").attr("width", 46).attr("height", 16)
  .style("position", "absolute").style("left", "1871px").style("top", (py - 7.5) + "px")
  .style("font-family", FONT).style("font-size", "10px");
tag.append("rect").attr("x", 0).attr("y", 0).attr("width", 43).attr("height", 15).attr("fill", "#000");
tag.append("text").attr("x", 4).attr("y", 11).attr("fill", "#fff").text(lastPrice.toFixed(5));
root.appendChild(tag.node());
</script></body></html>
